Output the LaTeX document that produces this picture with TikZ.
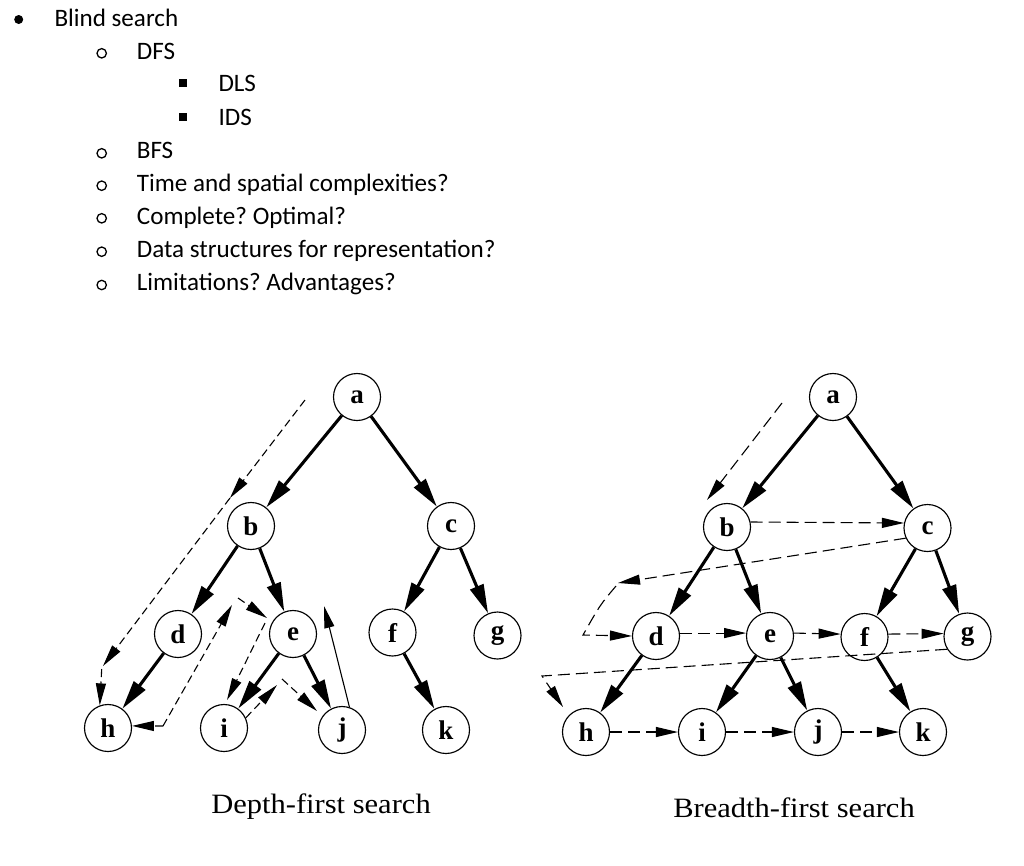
\documentclass[tikz,border=0pt]{standalone}
\usepackage{fontspec}
\setmainfont{Carlito}
\newfontfamily\treefont{Liberation Serif}
\newfontfamily\capfont[FakeStretch=1.09]{Liberation Serif}
\usetikzlibrary{arrows.meta}
\frenchspacing
\begin{document}
\begin{tikzpicture}[x=1pt,y=-1pt,
  nd/.style={circle,draw,line width=1.15pt,minimum size=47pt,inner sep=0pt,font=\treefont\bfseries\fontsize{27}{27}\selectfont},
  tedge/.style={line width=3.1pt,-{Triangle[length=29pt,width=14pt]}},
  ddash/.style={line width=1.1pt,dash pattern=on 8pt off 4.5pt,-{Triangle[length=22pt,width=10pt]}},
  bdash/.style={line width=1.1pt,dash pattern=on 12pt off 6pt,-{Triangle[length=22pt,width=10pt]}},
  thinarrow/.style={line width=1.1pt,-{Triangle[length=22pt,width=10pt]}},
  lst/.style={anchor=base west,inner sep=0pt,font=\fontsize{25.1}{25.1}\selectfont},
  captxt/.style={anchor=base,inner sep=0pt,font=\capfont\fontsize{28}{28}\selectfont},
  ring/.style={line width=1.3pt}]
\useasboundingbox (0,0) rectangle (1024,865);
% ---------- list ----------
\fill (18.7,19.5) circle[radius=4.5];
\node[lst] (t1) at (54.3,26) {Blind search};
\draw[ring] (101.7,53.3) circle[radius=4.7];
\node[lst] (t2) at (136.7,59.3) {DFS};
\fill (179.3,79.2) rectangle (186.7,87.2);
\node[lst] (t3) at (218.3,91.7) {DLS};
\fill (179.3,113) rectangle (186.7,121);
\node[lst] (t4) at (218.3,125) {IDS};
\draw[ring] (101.7,153.3) circle[radius=4.7];
\node[lst] (t5) at (136.7,158.3) {BFS};
\draw[ring] (101.7,185.7) circle[radius=4.7];
\node[lst] (t6) at (136.7,191) {Time and spatial complexities?};
\draw[ring] (101.7,218.3) circle[radius=4.7];
\node[lst] (t7) at (136.7,224) {Complete? Optimal?};
\draw[ring] (101.7,251.7) circle[radius=4.7];
\node[lst] (t8) at (136.7,257) {Data structures for representation?};
\draw[ring] (101.7,285) circle[radius=4.7];
\node[lst] (t9) at (136.7,290) {Limitations? Advantages?};
% ---------- DFS tree ----------
\node[nd] (da) at (357,397) {a};
\node[nd] (db) at (251,526) {b};
\node[nd] (dc) at (451,526) {c};
\node[nd] (dd) at (178,634) {d};
\node[nd] (de) at (293,634) {e};
\node[nd] (df) at (392.5,632.5) {f};
\node[nd] (dg) at (497.5,635.5) {g};
\node[nd] (dh) at (108,728) {h};
\node[nd] (di) at (224,728) {i};
\node[nd] (dj) at (342,730) {j};
\node[nd] (dk) at (446,730) {k};
\foreach \u/\v in {da/db,da/dc,db/dd,db/de,dc/df,dc/dg,dd/dh,de/di,de/dj,df/dk}
  \draw[tedge] (\u) -- (\v);
\node[captxt] (capd) at (321,813.5) {Depth-first search};
% DFS traversal
\coordinate (p1) at (305,400);
\coordinate (p2) at (230,498);
\coordinate (p3) at (103,666);
\coordinate (p4) at (101.7,669);
\coordinate (p5) at (163,726);
\coordinate (p6) at (232,605);
\coordinate (p7) at (238,598);
\coordinate (p8) at (265,623);
\coordinate (p9) at (282,679);
\coordinate (p10) at (277,685);
\coordinate (p11) at (227,700);
\coordinate (p12) at (317,711);
\coordinate (p13) at (324,606);
\coordinate (p14) at (267,618);
\draw[ddash] (p1) -- (p2);
\draw[ddash] (p2) -- (p3);
\draw[ddash] (p4) -- (dh.110);
\draw[ddash] (p5) -- (dh.5);
\draw[ddash] (p5) -- (p6);
\draw[ddash] (p7) -- (p14);
\draw[ddash] (p8) -- (p11);
\draw[ddash] (di.25) -- (p10);
\draw[ddash] (p9) -- (p12);
\draw[thinarrow] (dj.72) -- (p13);
% ---------- BFS tree ----------
\node[nd] (ba) at (833,397) {a};
\node[nd] (bb) at (727,527) {b};
\node[nd] (bc) at (927.5,528) {c};
\node[nd] (bd) at (656,636) {d};
\node[nd] (be) at (770,636) {e};
\node[nd] (bf) at (864.5,637) {f};
\node[nd] (bg) at (967.5,636.5) {g};
\node[nd] (bh) at (586,732) {h};
\node[nd] (bi) at (702,732) {i};
\node[nd] (bj) at (818,732) {j};
\node[nd] (bk) at (923,732) {k};
\foreach \u/\v in {ba/bb,ba/bc,bb/bd,bb/be,bc/bf,bc/bg,bd/bh,be/bi,be/bj,bf/bk}
  \draw[tedge] (\u) -- (\v);
\node[captxt] (capb) at (794,817) {Breadth-first search};
% BFS traversal
\coordinate (q1) at (782,403);
\coordinate (q2) at (707,500);
\coordinate (q3) at (618,583);
\coordinate (q4) at (616,586);
\coordinate (q5) at (583,635);
\coordinate (q6) at (542,676);
\coordinate (q7) at (563,707);
\draw[bdash] (q1) -- (q2);
\draw[bdash] (bb.12) -- (bc.168);
\draw[bdash] (bc.205) -- (q3);
\draw[bdash] (q4) .. controls (600,605) .. (q5) -- (bd.west);
\draw[bdash] (bd.7) -- (be.173);
\draw[bdash] (be.7) -- (bf.173);
\draw[bdash] (bf.7) -- (bg.173);
\draw[bdash] (bg.212) -- (q6) -- (q7);
\draw[bdash] (bh) -- (bi);
\draw[bdash] (bi) -- (bj);
\draw[bdash] (bj) -- (bk);
\end{tikzpicture}
\end{document}
